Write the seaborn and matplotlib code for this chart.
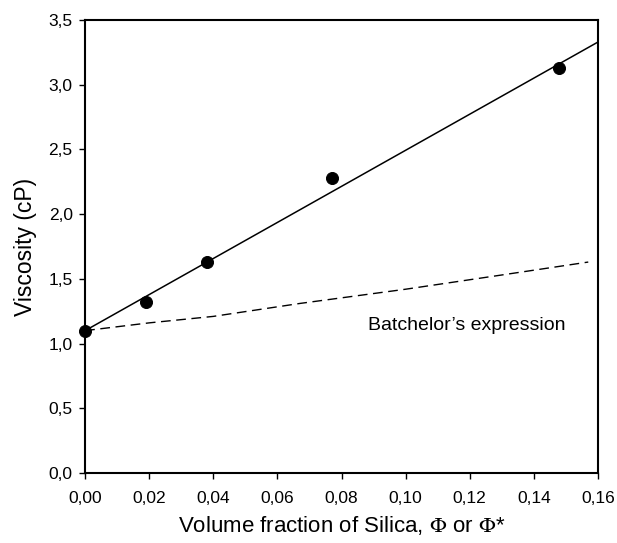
import matplotlib
matplotlib.use("Agg")
import matplotlib.pyplot as plt
import seaborn as sns
from matplotlib.ticker import FuncFormatter, MultipleLocator

# Data
phi_exp = [0.0, 0.019, 0.038, 0.077, 0.148]
visc_exp = [1.10, 1.32, 1.63, 2.28, 3.13]

fit_x = [0.0, 0.16]
fit_y = [1.10, 3.33]

batch_x = [0.0, 0.02, 0.04, 0.067, 0.10, 0.13, 0.157]
batch_y = [1.10, 1.16, 1.21, 1.31, 1.42, 1.53, 1.63]

sns.set_theme(style="ticks")
plt.rcParams['font.family'] = ['Liberation Sans', 'DejaVu Sans']
plt.rcParams['mathtext.fontset'] = 'stix'
plt.rcParams['text.color'] = 'black'
plt.rcParams['axes.labelcolor'] = 'black'

fig = plt.figure(figsize=(6.17, 5.43), dpi=100)
ax = fig.add_axes([0.138, 0.129, 0.831, 0.834])

sns.lineplot(x=fit_x, y=fit_y, ax=ax, color='black', linewidth=1.1)
sns.lineplot(x=batch_x, y=batch_y, ax=ax, color='black', linewidth=1.0,
             linestyle=(0, (7, 4)))
sns.scatterplot(x=phi_exp, y=visc_exp, ax=ax, color='black', s=75,
                edgecolor='black', zorder=5, clip_on=False)

ax.text(0.119, 1.14, "Batchelor\u2019s expression", ha='center', va='center',
        fontsize=14, color='black')

ax.set_xlim(0, 0.16)
ax.set_ylim(0, 3.5)
ax.xaxis.set_major_locator(MultipleLocator(0.02))
ax.yaxis.set_major_locator(MultipleLocator(0.5))
ax.xaxis.set_major_formatter(FuncFormatter(lambda v, p: f"{v:.2f}".replace('.', ',')))
ax.yaxis.set_major_formatter(FuncFormatter(lambda v, p: f"{v:.1f}".replace('.', ',')))
ax.tick_params(direction='out', length=4, width=1, labelsize=12.5, colors='black')
ax.tick_params(axis='x', pad=9)
ax.tick_params(axis='y', pad=5)

for s in ax.spines.values():
    s.set_visible(True)
    s.set_linewidth(1.5)
    s.set_color('black')

ax.set_xlabel(r"Volume fraction of Silica, $\mathrm{\Phi}$ or $\mathrm{\Phi}$*",
              fontsize=16, labelpad=6, color='black')
ax.set_ylabel("Viscosity (cP)", fontsize=16.5, labelpad=8, color='black')

fig.savefig("out.png", dpi=100)
